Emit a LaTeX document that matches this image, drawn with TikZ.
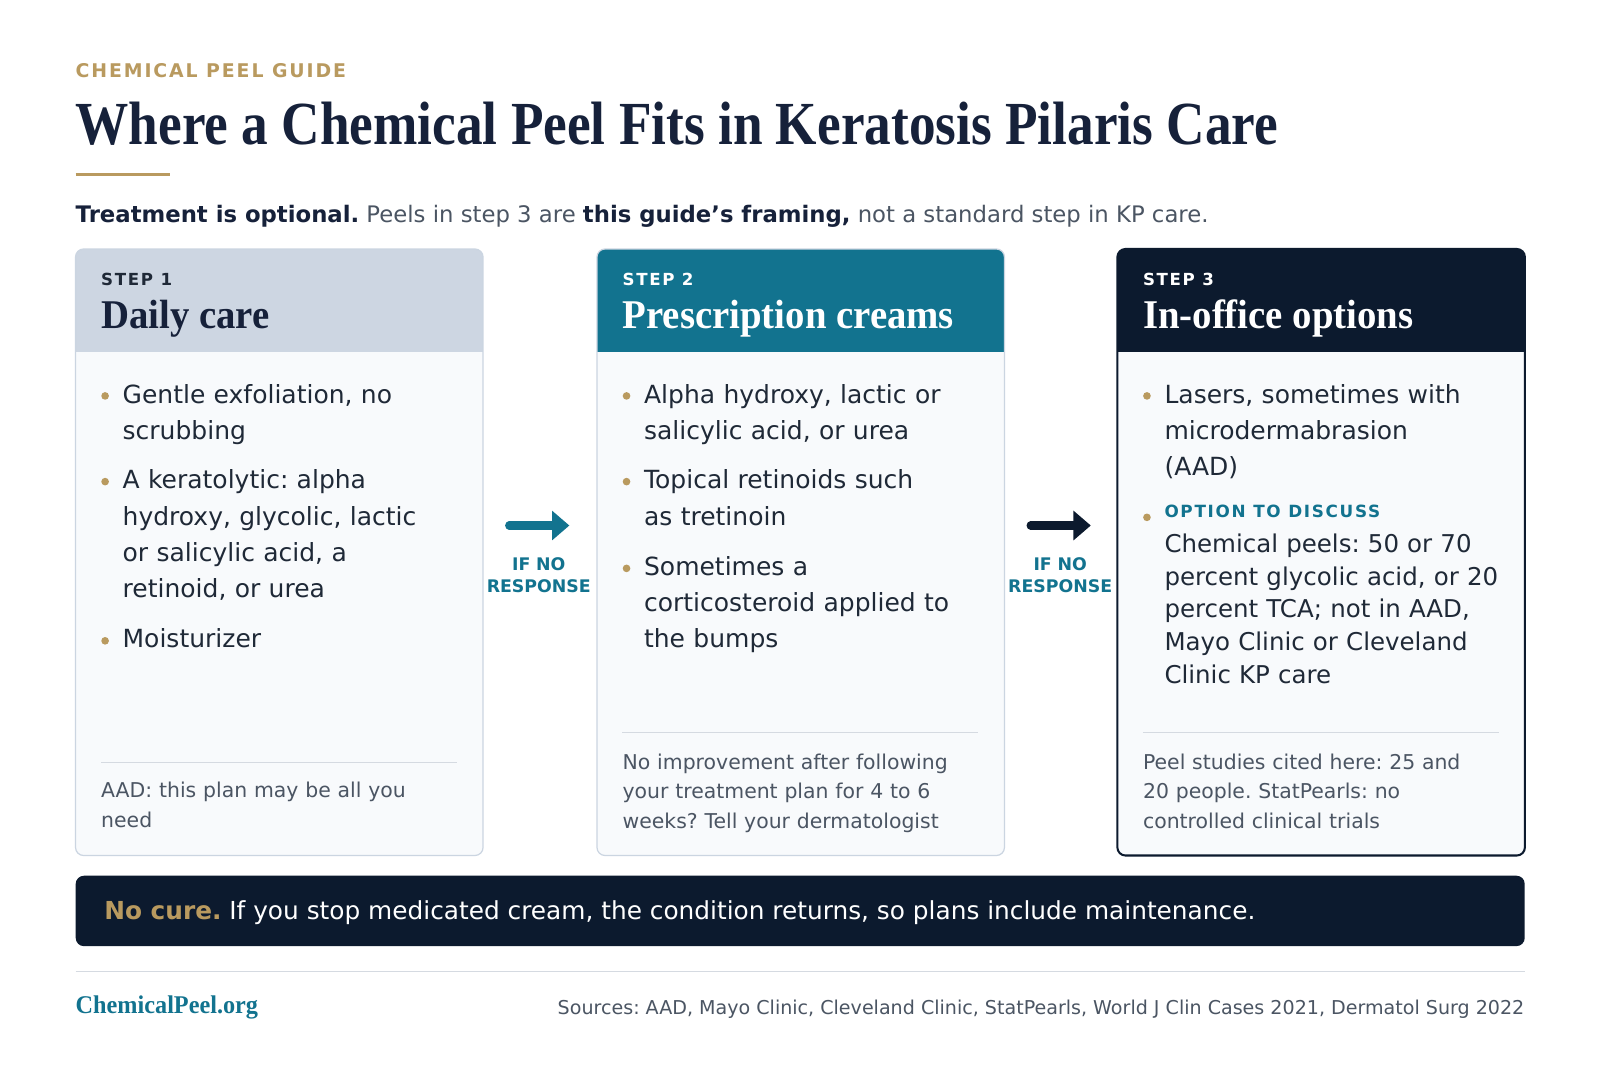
\documentclass[tikz,border=0pt]{standalone}
\usepackage{fontspec}
\setmainfont{DejaVu Sans}
\newfontfamily\capsans{DejaVu Sans}[LetterSpace=10]
\newfontfamily\headserif{Liberation Serif}[FakeStretch=0.87]
\newfontfamily\stepserif{Liberation Serif}[FakeStretch=0.95]
\usetikzlibrary{arrows.meta,positioning}
\frenchspacing

\definecolor{gold}{HTML}{B99A5F}
\definecolor{ink}{HTML}{16213A}
\definecolor{bodyink}{HTML}{1F2937}
\definecolor{muted}{HTML}{4B5563}
\definecolor{teal}{HTML}{12738F}
\definecolor{navy}{HTML}{0C1A2E}
\definecolor{band}{HTML}{CDD6E2}
\definecolor{cardbg}{HTML}{F8FAFC}
\definecolor{cardline}{HTML}{CBD5E1}
\definecolor{rulegray}{HTML}{D5DAE1}

\tikzset{
  card/.style={fill=cardbg, rounded corners=8pt, minimum width=399pt,
    minimum height=594pt, anchor=north west, inner sep=0pt},
  cardframe/.style={draw=cardline, line width=1.2pt, rounded corners=8pt},
  txt/.style={anchor=base west, inner sep=0pt, align=left},
  steplabel/.style={txt, font=\capsans\bfseries\fontsize{16.3}{20}\selectfont},
  steptitle/.style={txt, font=\stepserif\bfseries\fontsize{40}{44}\selectfont},
  item/.style={txt, text width=350pt, text=bodyink, font=\fontsize{24.5}{35.5}\selectfont},
  note/.style={txt, text width=360pt, text=muted, font=\fontsize{20}{29}\selectfont},
  dot/.style={circle, fill=gold, inner sep=0pt, minimum size=7.5pt},
  divider/.style={draw=rulegray, line width=1pt},
  flow/.style={line width=8pt, line cap=round, -{Triangle[length=17pt,width=28pt]}},
  flowtag/.style={anchor=base, inner sep=0pt, text width=120pt, align=center, text=teal,
    font=\bfseries\fontsize{17}{22}\selectfont}
}

\begin{document}
\begin{tikzpicture}[x=1pt,y=-1pt]
\useasboundingbox[fill=white] (0,0) rectangle (1568,1046);

% heading
\node[txt, text=gold, font=\capsans\bfseries\fontsize{18.5}{20}\selectfont] (kicker) at (74,76) {CHEMICAL PEEL GUIDE};
\node[txt, text=ink, font=\headserif\bfseries\fontsize{60}{64}\selectfont] (title) at (74,142) {Where a Chemical Peel Fits in Keratosis Pilaris Care};
\draw[gold, line width=3pt] (74,171) -- (167,171);
\node[txt, text=muted, font=\fontsize{22.3}{26}\selectfont] (intro) at (74,218)
  {\textcolor{ink}{\bfseries Treatment is optional.} Peels in step 3 are \textcolor{ink}{\bfseries this guide's framing,} not a standard step in KP care.};

% step 1
\node[card] (card1) at (74,244) {};
\begin{scope}
\clip[rounded corners=8pt] (card1.north west) rectangle (card1.south east);
\fill[band] (card1.north west) rectangle ([yshift=-101pt]card1.north east);
\end{scope}
\draw[cardframe] (card1.north west) rectangle (card1.south east);
\node[steplabel, text=bodyink] (s1) at (99,280) {STEP 1};
\node[steptitle, text=ink] (t1) at (99,322) {Daily care};
\node[dot] (d11) at (103,388) {};
\node[item] (c1i1) at (120,395) {Gentle exfoliation, no\\scrubbing};
\node[dot] (d12) at (103,472) {};
\node[item] (c1i2) at (120,479) {A keratolytic: alpha\\hydroxy, glycolic, lactic\\or salicylic acid, a\\retinoid, or urea};
\node[dot] (d13) at (103,628) {};
\node[item] (c1i3) at (120,635) {Moisturizer};
\draw[divider] (99,747) -- (448,747);
\node[note] (c1f) at (99,782) {AAD: this plan may be all you\\need};

% step 2
\node[card] (card2) at (585,244) {};
\begin{scope}
\clip[rounded corners=8pt] (card2.north west) rectangle (card2.south east);
\fill[teal] (card2.north west) rectangle ([yshift=-101pt]card2.north east);
\end{scope}
\draw[cardframe] (card2.north west) rectangle (card2.south east);
\node[steplabel, text=white] (s2) at (610,280) {STEP 2};
\node[steptitle, text=white] (t2) at (610,322) {Prescription creams};
\node[dot] (d21) at (614,388) {};
\node[item] (c2i1) at (631,395) {Alpha hydroxy, lactic or\\salicylic acid, or urea};
\node[dot] (d22) at (614,472) {};
\node[item] (c2i2) at (631,479) {Topical retinoids such\\as tretinoin};
\node[dot] (d23) at (614,557) {};
\node[item] (c2i3) at (631,564) {Sometimes a\\corticosteroid applied to\\the bumps};
\draw[divider] (610,718) -- (958,718);
\node[note] (c2f) at (610,754) {No improvement after following\\your treatment plan for 4 to 6\\weeks? Tell your dermatologist};

% step 3
\node[card] (card3) at (1095,244) {};
\begin{scope}
\clip[rounded corners=8pt] (card3.north west) rectangle (card3.south east);
\fill[navy] (card3.north west) rectangle ([yshift=-101pt]card3.north east);
\end{scope}
\draw[cardframe, draw=navy, line width=2pt] (card3.north west) rectangle (card3.south east);
\node[steplabel, text=white] (s3) at (1120,280) {STEP 3};
\node[steptitle, text=white] (t3) at (1120,322) {In-office options};
\node[dot] (d31) at (1124,388) {};
\node[item] (c3i1) at (1141,395) {Lasers, sometimes with\\microdermabrasion\\(AAD)};
\node[dot] (d32) at (1124,507) {};
\node[txt, text=teal, font=\capsans\bfseries\fontsize{16.5}{20}\selectfont] (opt) at (1141,507) {OPTION TO DISCUSS};
\node[item, font=\fontsize{24}{32.3}\selectfont] (c3i2) at (1141,541) {Chemical peels: 50 or 70\\percent glycolic acid, or 20\\percent TCA; not in AAD,\\Mayo Clinic or Cleveland\\Clinic KP care};
\draw[divider] (1120,718) -- (1469,718);
\node[note] (c3f) at (1120,754) {Peel studies cited here: 25 and\\20 people. StatPearls: no\\controlled clinical trials};

% arrows between steps
\coordinate (a1s) at (499,515);
\coordinate (a1e) at (558,515);
\draw[flow, teal] (a1s) -- (a1e);
\node[flowtag] (r1) at (528,559) {IF NO\\RESPONSE};
\coordinate (a2s) at (1010,515);
\coordinate (a2e) at (1069,515);
\draw[flow, navy] (a2s) -- (a2e);
\node[flowtag] (r2) at (1039,559) {IF NO\\RESPONSE};

% banner
\node[fill=navy, rounded corners=8pt, minimum width=1420pt, minimum height=69pt,
  anchor=north west, inner sep=0pt] (banner) at (74,858) {};
\node[txt, text=white, font=\fontsize{24.3}{28}\selectfont] (bannertext) at (102,901)
  {\textcolor{gold}{\bfseries No cure.} If you stop medicated cream, the condition returns, so plans include maintenance.};

% footer
\draw[divider] (74,952) -- (1494,952);
\node[txt, text=teal, font=\stepserif\bfseries\fontsize{25}{28}\selectfont] (brand) at (74,993) {ChemicalPeel.org};
\node[anchor=base east, inner sep=0pt, text=muted, font=\fontsize{18.7}{22}\selectfont] (sources) at (1494,994)
  {Sources: AAD, Mayo Clinic, Cleveland Clinic, StatPearls, World J Clin Cases 2021, Dermatol Surg 2022};
\end{tikzpicture}
\end{document}
